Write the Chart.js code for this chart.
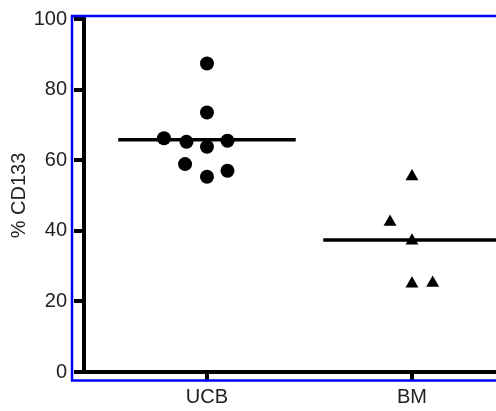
<!DOCTYPE html>
<html>
<head>
<meta charset="utf-8">
<script src="https://cdn.jsdelivr.net/npm/chart.js@4/dist/chart.umd.min.js"></script>
<style>
  html, body { margin: 0; padding: 0; background: #ffffff; overflow: hidden; }
  #wrap { width: 496px; height: 411px; }
</style>
</head>
<body>
<div id="wrap"><canvas id="c" width="496" height="411"></canvas></div>
<script>
// ---- data ----
const categories = ["UCB", "BM"];
const categoryPositions = [1, 2];
const yTicks = [0, 20, 40, 60, 80, 100];
const yTitle = "% CD133";

// UCB (circles): horizontal position (scatter jitter) and % CD133
const ucbX = [1.0, 1.0, 0.79, 0.9, 1.0, 1.1, 0.893, 1.0, 1.1];
const ucbY = [87.4, 73.5, 66.2, 65.2, 63.8, 65.5, 58.9, 55.3, 57.0];

// BM (triangles)
const bmX = [2.0, 1.893, 2.0, 2.0, 2.101];
const bmY = [55.4, 42.5, 37.2, 25.0, 25.2];

// group median lines
const medianValues = [65.8, 37.4];
const medianHalfWidth = 0.433;

// ---- build chart ----
const pts = (xs, ys) => xs.map((x, i) => ({ x: x, y: ys[i] }));
const medianData = (i) => [
  { x: categoryPositions[i] - medianHalfWidth, y: medianValues[i] },
  { x: categoryPositions[i] + medianHalfWidth, y: medianValues[i] }
];

const blueFrame = {
  id: 'blueFrame',
  afterDraw(chart) {
    const a = chart.chartArea;
    const ctx = chart.ctx;
    ctx.save();
    ctx.strokeStyle = '#0000ff';
    ctx.lineWidth = 2.5;
    const l = a.left - 12, t = a.top - 3, b = a.bottom + 8.5, r = chart.width + 10;
    ctx.beginPath();
    ctx.moveTo(r, t);
    ctx.lineTo(l, t);
    ctx.lineTo(l, b);
    ctx.lineTo(r, b);
    ctx.stroke();
    ctx.restore();
  }
};

const font = { family: "'Liberation Sans', Arial, Helvetica, sans-serif", size: 20 };

new Chart(document.getElementById('c'), {
  type: 'scatter',
  data: {
    datasets: [
      {
        label: 'UCB median',
        data: medianData(0),
        showLine: true,
        borderColor: '#000',
        borderWidth: 3.5,
        pointRadius: 0,
        order: 2
      },
      {
        label: 'BM median',
        data: medianData(1),
        showLine: true,
        borderColor: '#000',
        borderWidth: 3.5,
        pointRadius: 0,
        order: 2
      },
      {
        label: categories[0],
        data: pts(ucbX, ucbY),
        pointStyle: 'circle',
        pointRadius: 7,
        backgroundColor: '#000',
        borderColor: '#000',
        borderWidth: 0,
        order: 1
      },
      {
        label: categories[1],
        data: pts(bmX, bmY),
        pointStyle: 'triangle',
        pointRadius: 7.5,
        backgroundColor: '#000',
        borderColor: '#000',
        borderWidth: 0,
        order: 1
      }
    ]
  },
  options: {
    responsive: false,
    devicePixelRatio: 1,
    animation: false,
    layout: { autoPadding: false, padding: { top: 18, right: 0, bottom: 0, left: 0 } },
    plugins: { legend: { display: false }, tooltip: { enabled: false } },
    scales: {
      x: {
        type: 'linear',
        min: 0.4,
        max: 2.41,
        afterFit(s) { s.height = 39; },
        afterBuildTicks(s) { s.ticks = categoryPositions.map(v => ({ value: v })); },
        border: { display: true, color: '#000', width: 4 },
        grid: { display: true, drawOnChartArea: false, drawTicks: true, tickLength: 8, color: '#000', lineWidth: 4 },
        ticks: {
          autoSkip: false,
          maxRotation: 0,
          padding: 5,
          color: '#222',
          font: font,
          callback(v) {
            const i = categoryPositions.indexOf(v);
            return i >= 0 ? categories[i] : '';
          }
        }
      },
      y: {
        min: yTicks[0],
        max: yTicks[yTicks.length - 1],
        afterFit(s) { s.width = 84; },
        afterBuildTicks(s) { s.ticks = yTicks.map(v => ({ value: v })); },
        border: { display: true, color: '#000', width: 4 },
        grid: { display: true, drawOnChartArea: false, drawTicks: true, tickLength: 10, color: '#000', lineWidth: 4 },
        ticks: { padding: 7, color: '#222', font: font },
        title: { display: true, text: yTitle, color: '#222', font: font, padding: { top: 7, bottom: 0 } }
      }
    }
  },
  plugins: [blueFrame]
});
</script>
</body>
</html>
